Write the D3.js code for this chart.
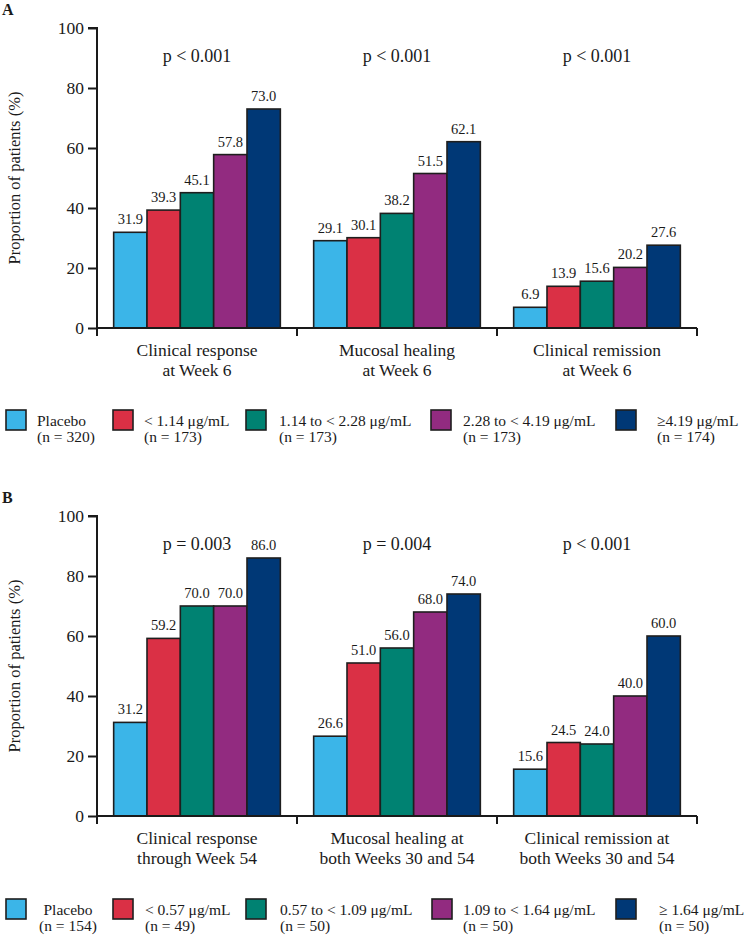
<!DOCTYPE html>
<html><head><meta charset="utf-8">
<script src="https://cdn.jsdelivr.net/npm/d3@7"></script>
<style>
html,body{margin:0;padding:0;background:#fff;}
text{font-family:"Liberation Serif","DejaVu Serif",serif;fill:#1a1a1a;}
</style></head>
<body>
<svg id="chart" width="747" height="936"></svg>
<script>
const seriesColors = ["#3BB5E8", "#DA3045", "#008272", "#922B80", "#003876"];
const yTicks = [0, 20, 40, 60, 80, 100];

const catsA = [["Clinical response", "at Week 6"], ["Mucosal healing", "at Week 6"], ["Clinical remission", "at Week 6"]];
const valuesA = [
  [31.9, 39.3, 45.1, 57.8, 73.0],
  [29.1, 30.1, 38.2, 51.5, 62.1],
  [6.9, 13.9, 15.6, 20.2, 27.6]
];
const pValuesA = ["p < 0.001", "p < 0.001", "p < 0.001"];
const legendA = [["Placebo", "(n = 320)"], ["< 1.14 μg/mL", "(n = 173)"], ["1.14 to < 2.28 μg/mL", "(n = 173)"], ["2.28 to < 4.19 μg/mL", "(n = 173)"], ["≥4.19 μg/mL", "(n = 174)"]];

const catsB = [["Clinical response", "through Week 54"], ["Mucosal healing at", "both Weeks 30 and 54"], ["Clinical remission at", "both Weeks 30 and 54"]];
const valuesB = [
  [31.2, 59.2, 70.0, 70.0, 86.0],
  [26.6, 51.0, 56.0, 68.0, 74.0],
  [15.6, 24.5, 24.0, 40.0, 60.0]
];
const pValuesB = ["p = 0.003", "p = 0.004", "p < 0.001"];
const legendB = [["Placebo", "(n = 154)"], ["< 0.57 μg/mL", "(n = 49)"], ["0.57 to < 1.09 μg/mL", "(n = 50)"], ["1.09 to < 1.64 μg/mL", "(n = 50)"], ["≥ 1.64 μg/mL", "(n = 50)"]];

const svg = d3.select("#chart");

function panel(cfg) {
  const g = svg.append("g");
  const x0 = d3.scaleBand().domain(d3.range(cfg.cats.length)).range([97, 697]).paddingInner(0).paddingOuter(0);
  const x1 = d3.scaleBand().domain(d3.range(5)).range([0, x0.bandwidth()]).paddingOuter(0.5).paddingInner(0);
  const y = d3.scaleLinear().domain([0, 100]).range([cfg.y0, cfg.y0 - 300]);

  g.append("text").attr("x", 2).attr("y", cfg.y0 - 313).attr("font-weight", "bold").attr("font-size", 16).text(cfg.letter);

  // y axis
  const ya = g.append("g").attr("transform", "translate(97,0)")
    .call(d3.axisLeft(y).tickValues(yTicks).tickSize(9).tickPadding(4).tickFormat(d3.format("d")));
  ya.select(".domain").attr("stroke", "#1a1a1a").attr("stroke-width", 2).attr("d", `M-9,${y(100)}H0V${cfg.y0 + 8}`);
  ya.selectAll(".tick line").attr("stroke", "#1a1a1a").attr("stroke-width", 2);
  ya.selectAll(".tick text").attr("font-size", 17.5).attr("fill", "#1a1a1a");

  g.append("text").attr("transform", `translate(20,${y(50)}) rotate(-90)`).attr("text-anchor", "middle")
    .attr("font-size", 16.5).text("Proportion of patients (%)");

  // bars
  cfg.values.forEach((vals, ci) => {
    const cg = g.append("g").attr("transform", `translate(${x0(ci)},0)`);
    cg.selectAll("rect").data(vals).join("rect")
      .attr("x", (d, i) => x1(i)).attr("width", x1.bandwidth())
      .attr("y", d => y(d)).attr("height", d => cfg.y0 - y(d))
      .attr("fill", (d, i) => seriesColors[i]).attr("stroke", "#1e1e1e").attr("stroke-width", 1.6);
    cg.selectAll("text.v").data(vals).join("text").attr("class", "v")
      .attr("x", (d, i) => x1(i) + x1.bandwidth() / 2).attr("y", d => y(d) - 8)
      .attr("text-anchor", "middle").attr("font-size", 14.5).text(d => d.toFixed(1));
    g.append("text").attr("x", x0(ci) + x0.bandwidth() / 2).attr("y", cfg.y0 - 266)
      .attr("text-anchor", "middle").attr("font-size", 18).text(cfg.pvals[ci]);
    cfg.cats[ci].forEach((line, li) => {
      g.append("text").attr("x", x0(ci) + x0.bandwidth() / 2).attr("y", cfg.y0 + 28 + li * 20)
        .attr("text-anchor", "middle").attr("font-size", 17.5).text(line);
    });
  });

  // x axis
  const xa = g.append("g").attr("transform", `translate(0,${cfg.y0})`);
  xa.append("line").attr("x1", 97).attr("x2", 697).attr("stroke", "#1a1a1a").attr("stroke-width", 2);
  [0, 1, 2].forEach(ci => {
    const xx = x0(ci) + x0.bandwidth();
    xa.append("line").attr("x1", xx).attr("x2", xx).attr("y1", 0).attr("y2", 8).attr("stroke", "#1a1a1a").attr("stroke-width", 2);
  });

  // legend
  const lg = g.append("g");
  cfg.legend.forEach((item, i) => {
    const lx = cfg.legX[i];
    lg.append("rect").attr("x", lx).attr("y", cfg.legY).attr("width", 20).attr("height", 20)
      .attr("fill", seriesColors[i]).attr("stroke", "#1e1e1e").attr("stroke-width", 1.6);
    const center = cfg.centerFirst && i === 0;
    item.forEach((line, li) => {
      lg.append("text").attr("x", center ? cfg.textX[i] + 30 : cfg.textX[i]).attr("y", cfg.legY + 16 + li * 16)
        .attr("text-anchor", center ? "middle" : "start").attr("font-size", 15.5).text(line);
    });
  });
}

panel({letter: "A", y0: 328, cats: catsA, values: valuesA, pvals: pValuesA, legend: legendA,
  legX: [6, 113, 246, 431, 616], textX: [37, 144, 279, 463, 657], legY: 410, centerFirst: false});
panel({letter: "B", y0: 816, cats: catsB, values: valuesB, pvals: pValuesB, legend: legendB,
  legX: [6, 113, 246, 432, 616], textX: [38, 145, 280, 463, 659], legY: 899, centerFirst: true});
</script>
</body></html>
